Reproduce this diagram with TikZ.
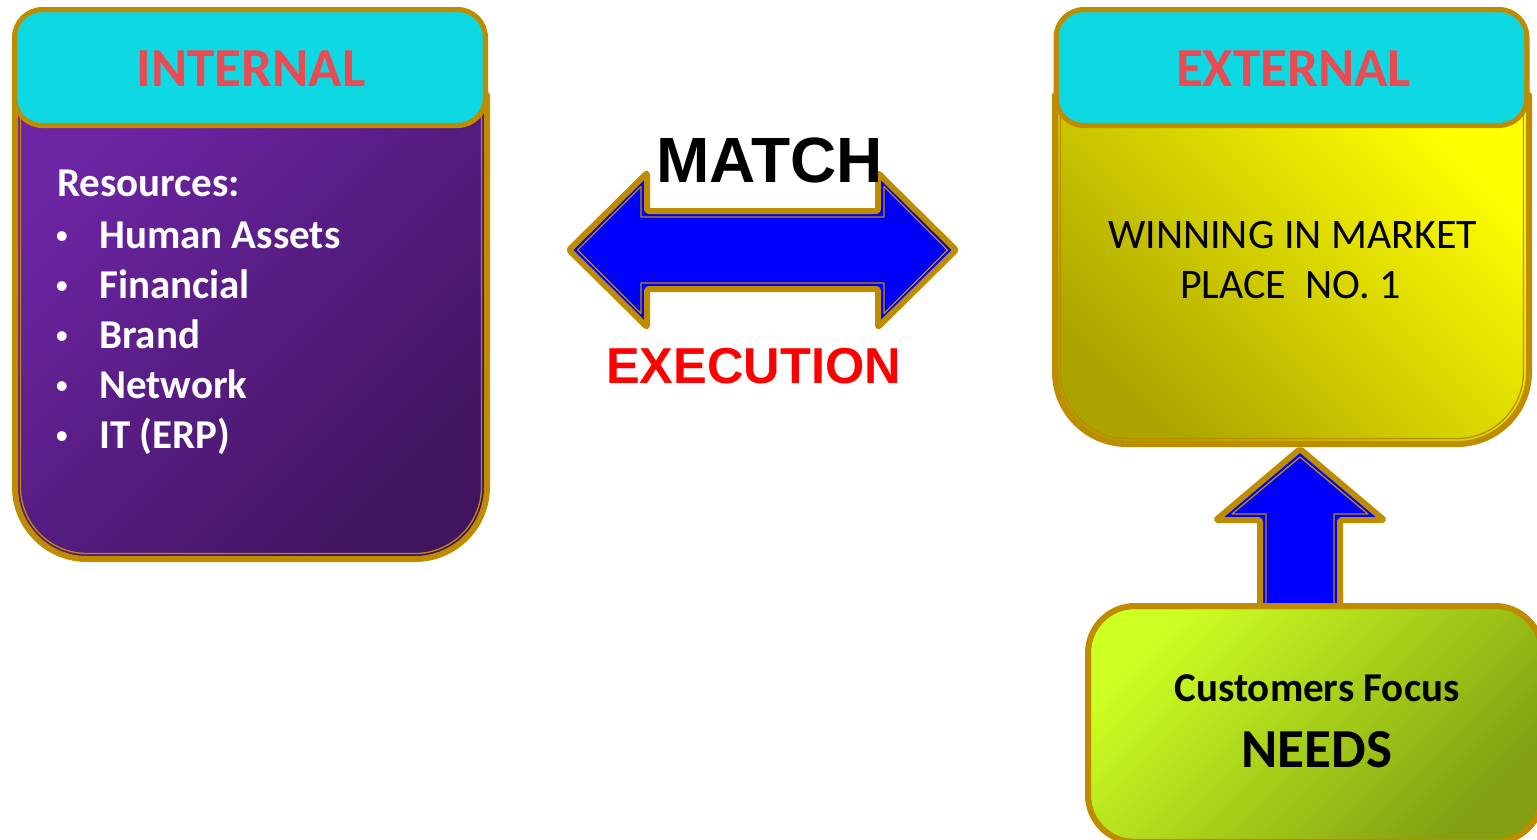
\documentclass[tikz,border=0pt]{standalone}
\usepackage{fontspec}
\newfontfamily\carlito{Carlito}
\newfontfamily\arialf{Liberation Sans}
\definecolor{gold}{HTML}{BF8C00}
\definecolor{cyanhead}{HTML}{0ED9E3}
\definecolor{intTop}{HTML}{6C25A3}
\definecolor{intBot}{HTML}{40145F}
\definecolor{extTop}{HTML}{FFFF00}
\definecolor{extMid}{HTML}{EEEB00}
\definecolor{extBot}{HTML}{ABA400}
\definecolor{cusTop}{HTML}{CCFF22}
\definecolor{cusMid}{HTML}{BAE61E}
\definecolor{cusBot}{HTML}{82A012}
\definecolor{headred}{HTML}{EC4A52}
\definecolor{arrowblue}{HTML}{0000FF}
\definecolor{textred}{HTML}{FF0000}
\begin{document}
\begin{tikzpicture}[x=1pt,y=1pt,line join=round,
  thickrim/.style={draw=gold,line width=6},
  thinrim/.style={draw=gold,line width=1.3},
  header/.style={draw=gold,line width=5,fill=cyanhead,rounded corners=28,minimum width=471,minimum height=116,inner sep=0},
  headtext/.style={font=\carlito\bfseries\fontsize{55}{66}\selectfont,text=headred,inner sep=0},
  listtext/.style={font=\carlito\bfseries\fontsize{41}{50}\selectfont,text=white,inner sep=0,anchor=base west},
  bulletmark/.style={font=\arialf\fontsize{36}{50}\selectfont,text=white,inner sep=0,anchor=base},
  plaintext/.style={font=\carlito\fontsize{42}{51}\selectfont,text=black,inner sep=0,anchor=base},
  custtext/.style={font=\carlito\bfseries\fontsize{41}{50}\selectfont,text=black,inner sep=0,anchor=base},
  needstext/.style={font=\carlito\bfseries\fontsize{55}{66}\selectfont,text=black,inner sep=0,anchor=base},
  bigword/.style={font=\arialf\bfseries\fontsize{64}{77}\selectfont,inner sep=0,anchor=base}]
\useasboundingbox (0,0) rectangle (1537,-839);
\begin{scope}
\clip (0,0) rectangle (1537,-839);

% ---------- internal body ----------
\path[thickrim,top color=intTop,bottom color=intBot,shading angle=45]
  (15,-95) -- (487,-95) -- (487,-487) arc[start angle=0,end angle=-90,radius=72]
  -- (87,-559) arc[start angle=270,end angle=180,radius=72] -- cycle;
\draw[thinrim] (20.5,-100) -- (20.5,-487) arc[start angle=180,end angle=270,radius=66.5]
  -- (415,-553.5) arc[start angle=270,end angle=360,radius=66.5] -- (481.5,-100);

% ---------- external body ----------
\path[thickrim,top color=extTop,middle color=extMid,bottom color=extBot,shading angle=-45]
  (1055,-95) -- (1529,-95) -- (1529,-372) arc[start angle=0,end angle=-90,radius=72]
  -- (1127,-444) arc[start angle=270,end angle=180,radius=72] -- cycle;
\draw[thinrim] (1060.5,-100) -- (1060.5,-372) arc[start angle=180,end angle=270,radius=66.5]
  -- (1457,-438.5) arc[start angle=270,end angle=360,radius=66.5] -- (1523.5,-100);

% ---------- headers ----------
\node[header] (inth) at (250,-67.5) {};
\draw[thinrim,rounded corners=23] ([shift={(4.5,-4.5)}]inth.north west) rectangle ([shift={(-4.5,4.5)}]inth.south east);
\node[headtext] (intt) at (251,-68.5) {INTERNAL};

\node[header] (exth) at (1291.5,-67.5) {};
\draw[thinrim,rounded corners=23] ([shift={(4.5,-4.5)}]exth.north west) rectangle ([shift={(-4.5,4.5)}]exth.south east);
\node[headtext] (extt) at (1293.5,-68.5) {EXTERNAL};

% ---------- internal list ----------
\node[listtext] (res) at (57,-196.7) {Resources:};
\node[bulletmark] (b1) at (62,-248) {•};
\node[listtext] (l1) at (99,-248) {Human Assets};
\node[bulletmark] (b2) at (62,-298) {•};
\node[listtext] (l2) at (99,-298) {Financial};
\node[bulletmark] (b3) at (62,-348) {•};
\node[listtext] (l3) at (99,-348) {Brand};
\node[bulletmark] (b4) at (62,-398) {•};
\node[listtext] (l4) at (99,-398) {Network};
\node[bulletmark] (b5) at (62,-448) {•};
\node[listtext] (l5) at (99,-448) {IT (ERP)};

% ---------- external text ----------
\node[plaintext] (win1) at (1292.5,-248.3) {WINNING IN MARKET};
\node[plaintext] (win2) at (1290.5,-298.3) {PLACE\ \ NO. 1};

% ---------- double arrow ----------
\path[thickrim,fill=arrowblue,rounded corners=2]
  (569,-250) -- (647,-173) -- (647,-211) -- (878,-211) -- (878,-173) -- (956,-250)
  -- (878,-327) -- (878,-289) -- (647,-289) -- (647,-327) -- cycle;
\draw[thinrim]
  (577.5,-250) -- (641,-186.5) -- (641,-217) -- (884,-217) -- (884,-186.5) -- (947.5,-250)
  -- (884,-313.5) -- (884,-283) -- (641,-283) -- (641,-313.5) -- cycle;
\node[bigword] (match) at (769.5,-182) {MATCH};
\node[bigword,font=\arialf\bfseries\fontsize{50.5}{60}\selectfont,text=textred] (exec) at (753.5,-383) {EXECUTION};

% ---------- up arrow ----------
\path[thickrim,fill=arrowblue,rounded corners=2]
  (1300,-449) -- (1216,-520) -- (1260,-520) -- (1260,-615) -- (1340,-615)
  -- (1340,-520) -- (1384,-520) -- cycle;
\draw[thinrim]
  (1300,-457) -- (1232,-514) -- (1266,-514) -- (1266,-610) -- (1334,-610)
  -- (1334,-514) -- (1368,-514) -- cycle;

% ---------- customers box ----------
\node[draw=gold,line width=6,rounded corners=47,minimum width=454,minimum height=236,
  top color=cusTop,middle color=cusMid,bottom color=cusBot,shading angle=45,inner sep=0]
  (cust) at (1315,-724) {};
\draw[thinrim,rounded corners=41] ([shift={(5.5,-5.5)}]cust.north west) rectangle ([shift={(-5.5,5.5)}]cust.south east);
\node[custtext] (cf) at (1317,-701.7) {Customers Focus};
\node[needstext] (needs) at (1317,-767.3) {NEEDS};
\end{scope}
\end{tikzpicture}
\end{document}
